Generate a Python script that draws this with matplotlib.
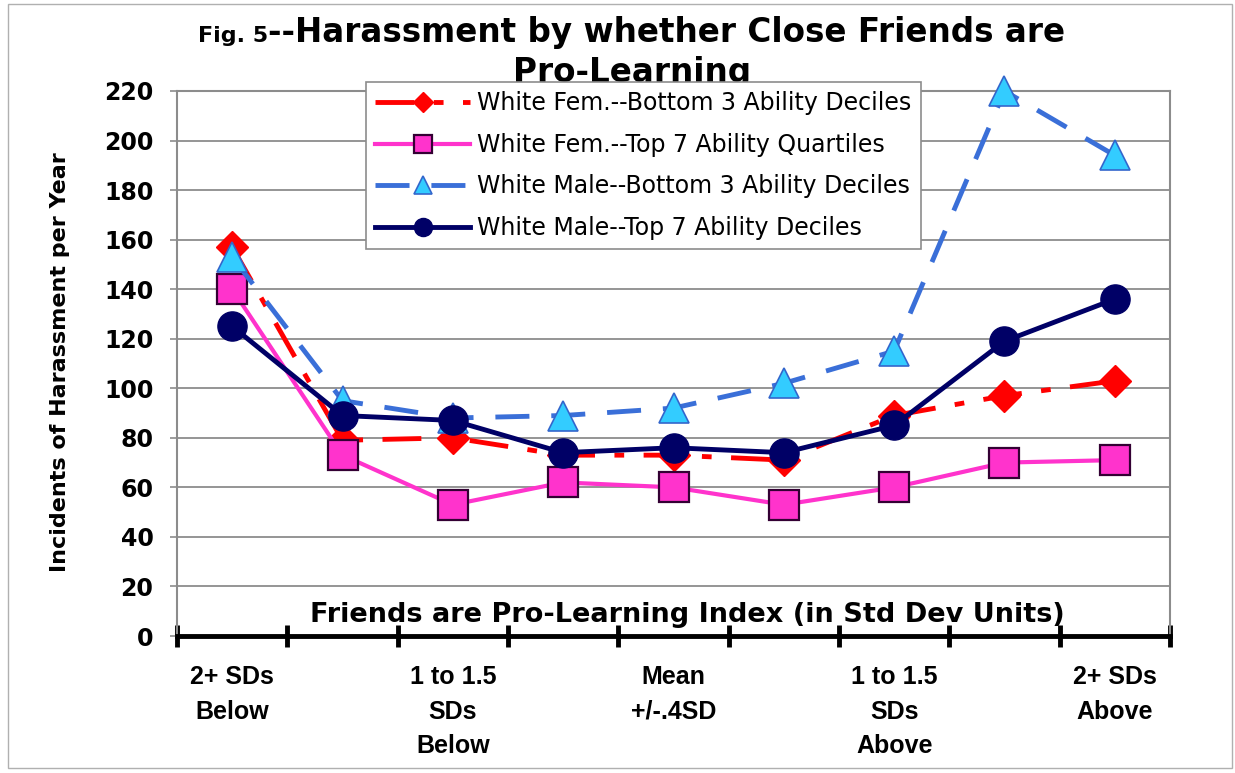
import numpy as np
import matplotlib
matplotlib.use("Agg")
import matplotlib.pyplot as plt
from matplotlib.patches import Rectangle

plt.rcParams['font.family'] = ['DejaVu Sans']

# category labels (only every other interval is labelled)
categories = ['2+ SDs\nBelow', '', '1 to 1.5\nSDs\nBelow', '', 'Mean\n+/-.4SD', '',
              '1 to 1.5\nSDs\nAbove', '', '2+ SDs\nAbove']

# incidents of harassment per year
fem_bottom = [157, 79, 80, 73, 73, 71, 89, 97, 103]
fem_top = [140, 73, 53, 62, 60, 53, 60, 70, 71]
male_bottom = [153, 95, 88, 89, 92, 102, 115, 220, 194]
male_top = [125, 89, 87, 74, 76, 74, 85, 119, 136]

names = ['White Fem.--Bottom 3 Ability Deciles',
         'White Fem.--Top 7 Ability Quartiles',
         'White Male--Bottom 3 Ability Deciles',
         'White Male--Top 7 Ability Deciles']

W, H = 1235, 773
fig = plt.figure(figsize=(W / 100, H / 100), dpi=100)
ax = fig.add_axes([177 / W, 1 - 636 / H, (1170 - 177) / W, (636 - 91) / H])

x = np.arange(len(categories))
grey = '#8c8c8c'

l1, = ax.plot(x, fem_bottom, color='#ff0000', lw=3.5, dashes=[8, 4, 2, 4],
              marker='D', ms=16, mfc='#ff0000', mec='#ff0000', clip_on=False, zorder=3)
l2, = ax.plot(x, fem_top, color='#ff33cc', lw=3,
              marker='s', ms=21, mfc='#ff33cc', mec='#330033', mew=1.6, clip_on=False, zorder=3)
l3, = ax.plot(x, male_bottom, color='#3a6fd8', lw=3.5, dashes=[7, 4.5],
              marker='^', ms=22, mfc='#33ccff', mec='#3366cc', mew=1.2, clip_on=False, zorder=3)
l4, = ax.plot(x, male_top, color='#000066', lw=3.5,
              marker='o', ms=21, mfc='#000066', mec='#000066', clip_on=False, zorder=3)

ax.set_xlim(-0.5, 8.5)
ax.set_ylim(0, 220)
ax.set_yticks(range(0, 221, 20))
ax.yaxis.grid(True, color=grey, lw=1.3)
ax.set_axisbelow(True)
ax.tick_params(axis='y', direction='out', length=5, width=1.2, color=grey, pad=12,
               labelsize=17)
for lab in ax.get_yticklabels():
    lab.set_fontweight('bold')

ax.set_xticks(x)
ax.set_xticklabels(categories, family='Liberation Sans', fontweight='bold', fontsize=18,
                   linespacing=1.55)
ax.tick_params(axis='x', which='major', length=0, pad=21)
ax.set_xticks(np.arange(-0.5, 9, 1), minor=True)
ax.tick_params(axis='x', which='minor', direction='inout', length=16, width=3.5, color='black')

for side in ['left', 'top', 'right']:
    ax.spines[side].set_color(grey)
    ax.spines[side].set_linewidth(1.5)
ax.spines['bottom'].set_color('black')
ax.spines['bottom'].set_linewidth(3.5)

fig.text(687 / W, 1 - 622 / H, 'Friends are Pro-Learning Index (in Std Dev Units)',
         ha='center', va='baseline', fontsize=19.5, fontweight='bold')
fig.text(60 / W, 1 - 362 / H, 'Incidents of Harassment per Year', rotation=90,
         ha='center', va='center', fontsize=16, fontweight='bold')

# title: small "Fig. 5" followed by the large heading
t_fig = fig.text(0, 1 - 42 / H, 'Fig. 5', fontsize=16, fontweight='bold', va='baseline')
t_main = fig.text(0, 1 - 42 / H, '--Harassment by whether Close Friends are',
                  fontsize=23.5, fontweight='bold', va='baseline')
fig.text(632 / W, 1 - 82 / H, 'Pro-Learning', ha='center', va='baseline',
         fontsize=23.5, fontweight='bold')
fig.canvas.draw()
r = fig.canvas.get_renderer()
w1 = t_fig.get_window_extent(r).width
w2 = t_main.get_window_extent(r).width
left = 632 - (w1 + w2) / 2
t_fig.set_x(left / W)
t_main.set_x((left + w1) / W)

leg = fig.legend([l1, l2, l3, l4], names, loc='upper left',
                 bbox_to_anchor=(366 / W, 1 - 82 / H), fontsize=17, handlelength=4,
                 handletextpad=0.3, labelspacing=0.74, borderpad=0.4, borderaxespad=0,
                 fancybox=False, framealpha=1, edgecolor=grey, numpoints=1,
                 markerscale=0.62)
leg.get_frame().set_linewidth(1.2)

fig.patches.append(Rectangle((8 / W, 1 - 768 / H), (1232 - 8) / W, (768 - 4) / H,
                             transform=fig.transFigure, fill=False, edgecolor='#b0b0b0',
                             lw=1))

fig.savefig('out.png', dpi=100)
